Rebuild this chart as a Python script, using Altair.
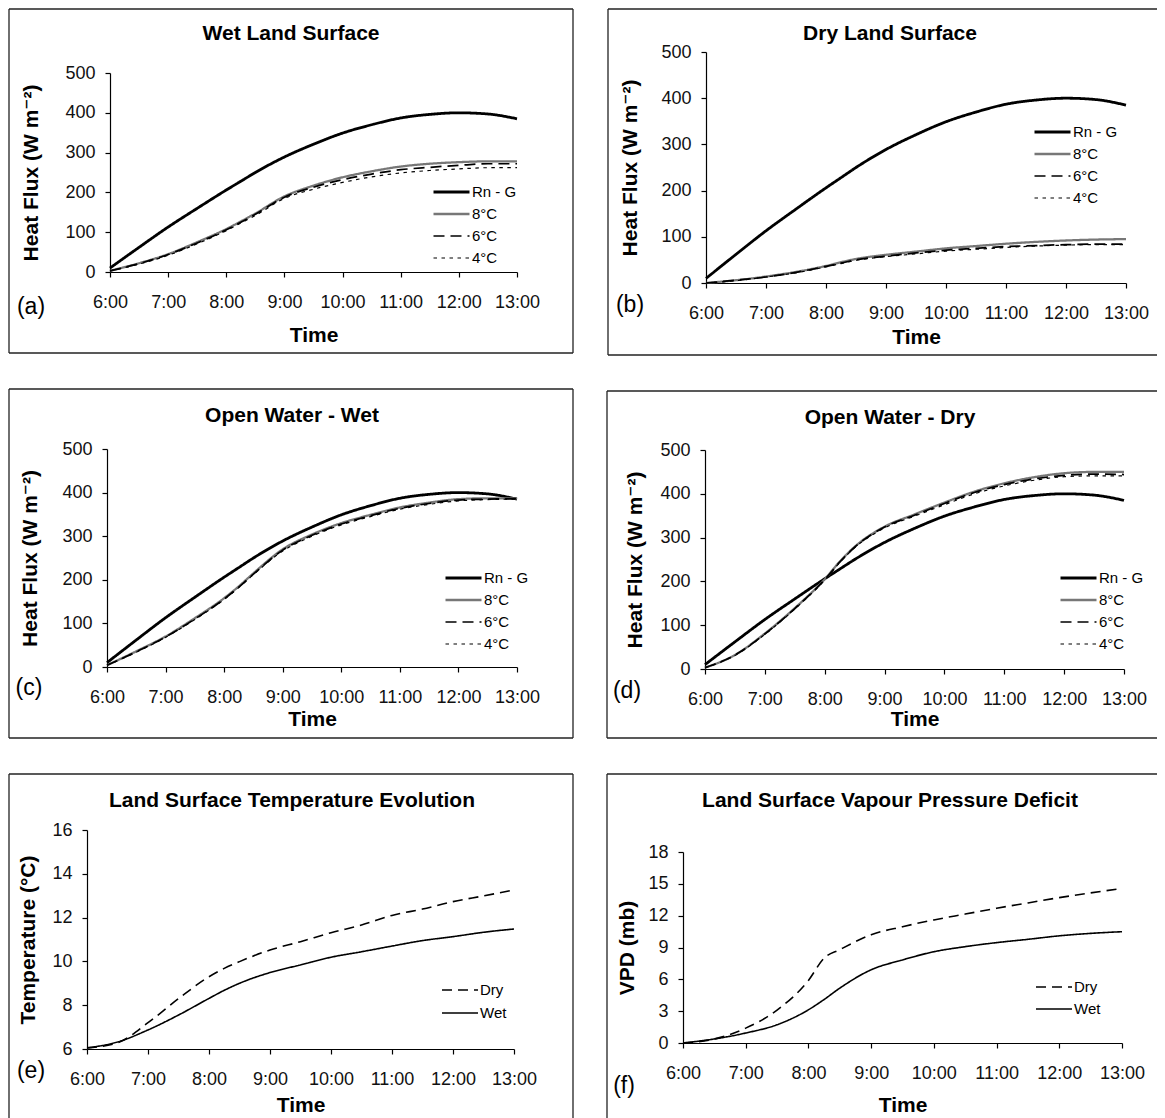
import altair as alt
import pandas as pd

# ---------------- data ----------------
TIMES = [6.0, 6.5, 7.0, 7.5, 8.0, 8.25, 8.5, 9.0, 9.5, 10.0, 10.5, 11.0, 11.5, 12.0, 12.5, 13.0]
HOURS = [6, 7, 8, 9, 10, 11, 12, 13]

FLUX_SERIES = ["Rn - G", "8°C", "6°C", "4°C"]
SURF_SERIES = ["Dry", "Wet"]

RN_G = [10, 62, 113, 160, 206, 228, 250, 289, 321, 349, 370, 387, 396, 400, 397, 385]

WETLAND_8C = [3, 22, 45, 75, 108, 127, 147, 190, 217, 238, 253, 265, 272, 276, 278, 278]
WETLAND_6C = [3, 21, 44, 73, 106, 125, 145, 188, 213, 232, 246, 257, 263, 268, 272, 272]
WETLAND_4C = [3, 20, 42, 71, 104, 123, 142, 185, 208, 225, 239, 249, 255, 259, 262, 262]

DRYLAND_8C = [0, 6, 14, 24, 37, 45, 52, 61, 68, 75, 80, 85, 89, 92, 94, 95]
DRYLAND_6C = [0, 6, 13, 23, 36, 43, 50, 58, 65, 71, 75, 79, 81, 83, 84, 84]
DRYLAND_4C = [0, 5, 13, 22, 35, 42, 49, 57, 63, 69, 73, 77, 80, 82, 83, 83]

WATERWET_8C = [4, 36, 70, 112, 158, 185, 215, 270, 304, 330, 349, 366, 377, 385, 387, 387]
WATERWET_6C = [4, 35, 69, 110, 156, 183, 213, 268, 302, 328, 347, 364, 375, 383, 385, 386]
WATERWET_4C = [4, 34, 68, 109, 155, 182, 212, 266, 300, 326, 345, 362, 373, 381, 384, 385]

WATERDRY_8C = [3, 32, 81, 139, 205, 245, 279, 325, 353, 380, 405, 424, 438, 447, 450, 450]
WATERDRY_6C = [3, 32, 80, 138, 204, 244, 278, 324, 351, 378, 403, 421, 434, 442, 445, 444]
WATERDRY_4C = [3, 31, 79, 137, 203, 243, 277, 322, 349, 375, 400, 418, 431, 439, 441, 441]

TEMP_DRY = [6.05, 6.28, 7.2, 8.3, 9.3, 9.68, 9.99, 10.52, 10.9, 11.31, 11.66, 12.1, 12.39, 12.73, 12.99, 13.26]
TEMP_WET = [6.05, 6.32, 6.87, 7.55, 8.31, 8.68, 9.0, 9.49, 9.84, 10.19, 10.44, 10.7, 10.95, 11.13, 11.33, 11.48]

VPD_DRY = [0, 0.38, 1.4, 3.1, 5.9, 8.0, 8.8, 10.2, 10.96, 11.6, 12.15, 12.7, 13.2, 13.7, 14.15, 14.56]
VPD_WET = [0, 0.38, 0.94, 1.72, 3.13, 4.1, 5.17, 6.9, 7.83, 8.6, 9.08, 9.46, 9.77, 10.1, 10.33, 10.49]

FLUX_TICKS = [0, 100, 200, 300, 400, 500]
TEMP_TICKS = [6, 8, 10, 12, 14, 16]
VPD_TICKS = [0, 3, 6, 9, 12, 15, 18]

# ---------------- styles / layout ----------------
W_TOTAL = 1149
H_TOTAL = 1110
FONT = "Liberation Sans, Arial, Helvetica, DejaVu Sans, sans-serif"
FLUX_COLORS = ["#000000", "#777777", "#000000", "#000000"]
FLUX_DASH = [[1, 0], [1, 0], [11, 6], [3.5, 4.5]]
FLUX_WIDTH = [2.8, 1.2, 2.2, 2.2]
SURF_COLORS = ["#000000", "#000000"]
SURF_DASH = [[10, 6], [1, 0]]
SURF_WIDTH = [1.6, 1.6]

ONE = pd.DataFrame({"k": [0]})


def long_df(names, values):
    rows = []
    for name, vals in zip(names, values):
        for t, v in zip(TIMES, vals):
            rows.append({"time": t, "value": v, "series": name})
    return pd.DataFrame(rows)


def rule(x1, x2, y1, y2):
    return alt.Chart(ONE).mark_rule(color="#222222", strokeWidth=1.3).encode(
        x=alt.value(x1), x2=alt.value(x2), y=alt.value(y1), y2=alt.value(y2))


def panel(df, series, colors, dashes, widths, ydom, yticks, ytitle, title, tag, g):
    bl, br, bt, bb = g["box"]
    layers = [rule(bl, br, bt, bt), rule(bl, bl, bt, bb)]
    if g.get("right", True):
        layers.append(rule(br, br, bt, bb))
    if g.get("bottom", True):
        layers.append(rule(bl, br, bb, bb))

    leg = alt.Legend(title=None, orient="none", legendX=g["lx"], legendY=g["ly"],
                     symbolType="stroke", symbolSize=1296, clipHeight=16,
                     labelFontSize=15, labelFont=FONT, labelColor="black", labelOffset=1,
                     rowPadding=g.get("rp", 6), padding=0)
    lines = alt.Chart(df).mark_line(interpolate="monotone").encode(
        x=alt.X("time:Q",
                scale=alt.Scale(domain=[6, 13], range=[g["x0"], g["x1"]], nice=False, zero=False),
                axis=alt.Axis(orient="bottom", offset=g["yb"] - H_TOTAL, values=HOURS,
                              labelExpr="datum.value + ':00'", title="Time",
                              titlePadding=g["xtp"], labelPadding=16)),
        y=alt.Y("value:Q",
                scale=alt.Scale(domain=ydom, range=[g["yb"], g["yt"]], nice=False, zero=False),
                axis=alt.Axis(orient="left", offset=-g["x0"], values=yticks, title=ytitle,
                              titlePadding=g["ytp"], labelPadding=10)),
        color=alt.Color("series:N", scale=alt.Scale(domain=series, range=colors), legend=leg),
        strokeDash=alt.StrokeDash("series:N", scale=alt.Scale(domain=series, range=dashes), legend=leg),
        strokeWidth=alt.StrokeWidth("series:N", scale=alt.Scale(domain=series, range=widths), legend=leg),
    )
    layers.append(lines)
    layers.append(alt.Chart(ONE).mark_text(text=title, font=FONT, fontSize=21, fontWeight="bold",
                                           align="center", baseline="middle", color="black")
                  .encode(x=alt.value(g["tx"]), y=alt.value(g["ty"])))
    layers.append(alt.Chart(ONE).mark_text(text=tag, font=FONT, fontSize=23,
                                           align="center", baseline="middle", color="black")
                  .encode(x=alt.value(g["gx"]), y=alt.value(g["gy"])))
    return layers


HEAT = "Heat Flux (W m⁻²)"

layers = []
layers += panel(long_df(FLUX_SERIES, [RN_G, WETLAND_8C, WETLAND_6C, WETLAND_4C]),
                FLUX_SERIES, FLUX_COLORS, FLUX_DASH, FLUX_WIDTH, [0, 500], FLUX_TICKS, HEAT,
                "Wet Land Surface", "(a)",
                dict(x0=102, x1=509, yt=65, yb=264, box=(1, 565, 1, 345),
                     tx=283, ty=26, gx=23, gy=299, lx=424, ly=176, xtp=13, ytp=23))
layers += panel(long_df(FLUX_SERIES, [RN_G, DRYLAND_8C, DRYLAND_6C, DRYLAND_4C]),
                FLUX_SERIES, FLUX_COLORS, FLUX_DASH, FLUX_WIDTH, [0, 500], FLUX_TICKS, HEAT,
                "Dry Land Surface", "(b)",
                dict(x0=698, x1=1118, yt=44, yb=275, box=(600, W_TOTAL, 1, 347), right=False,
                     tx=882, ty=26, gx=622, gy=297, lx=1025, ly=116, xtp=4, ytp=20))
layers += panel(long_df(FLUX_SERIES, [RN_G, WATERWET_8C, WATERWET_6C, WATERWET_4C]),
                FLUX_SERIES, FLUX_COLORS, FLUX_DASH, FLUX_WIDTH, [0, 500], FLUX_TICKS, HEAT,
                "Open Water - Wet", "(c)",
                dict(x0=99, x1=509, yt=441, yb=659, box=(1, 565, 381, 730),
                     tx=284, ty=408, gx=21, gy=680, lx=436, ly=562, xtp=2.5, ytp=21))
layers += panel(long_df(FLUX_SERIES, [RN_G, WATERDRY_8C, WATERDRY_6C, WATERDRY_4C]),
                FLUX_SERIES, FLUX_COLORS, FLUX_DASH, FLUX_WIDTH, [0, 500], FLUX_TICKS, HEAT,
                "Open Water - Dry", "(d)",
                dict(x0=697, x1=1116, yt=442, yb=661, box=(599, W_TOTAL, 383, 730), right=False,
                     tx=882, ty=410, gx=619, gy=683, lx=1051, ly=562, xtp=0, ytp=14))
layers += panel(long_df(SURF_SERIES, [TEMP_DRY, TEMP_WET]),
                SURF_SERIES, SURF_COLORS, SURF_DASH, SURF_WIDTH, [6, 16], TEMP_TICKS,
                "Temperature (°C)", "Land Surface Temperature Evolution", "(e)",
                dict(x0=79, x1=506, yt=822, yb=1041, box=(1, 565, 766, H_TOTAL), bottom=False,
                     tx=284, ty=793, gx=23, gy=1063, lx=433, ly=974, xtp=6, ytp=13, rp=7))
layers += panel(long_df(SURF_SERIES, [VPD_DRY, VPD_WET]),
                SURF_SERIES, SURF_COLORS, SURF_DASH, SURF_WIDTH, [0, 18], VPD_TICKS,
                "VPD (mb)", "Land Surface Vapour Pressure Deficit", "(f)",
                dict(x0=675, x1=1114, yt=844, yb=1035, box=(599, W_TOTAL, 766, H_TOTAL),
                     right=False, bottom=False,
                     tx=882, ty=793, gx=616, gy=1078, lx=1027, ly=971, xtp=12, ytp=10))

IND = dict(x="independent", y="independent", color="independent",
           strokeDash="independent", strokeWidth="independent")

chart = alt.layer(*layers).resolve_scale(**IND).resolve_axis(
    x="independent", y="independent"
).resolve_legend(
    color="independent", strokeDash="independent", strokeWidth="independent"
).properties(
    width=W_TOTAL, height=H_TOTAL, padding=0, autosize=alt.AutoSizeParams(type="none")
).configure_view(strokeWidth=0).configure_axis(
    labelFont=FONT, labelFontSize=18, labelColor="#111111",
    titleFont=FONT, titleFontSize=21, titleFontWeight="bold", titleColor="#000000",
    domainColor="#000000", domainWidth=1.2, tickColor="#000000", tickWidth=1.2, tickSize=5,
    grid=False, labelFlush=False, labelOverlap=False,
)

chart.save("out.html", embed_options={"renderer": "svg", "actions": False})
